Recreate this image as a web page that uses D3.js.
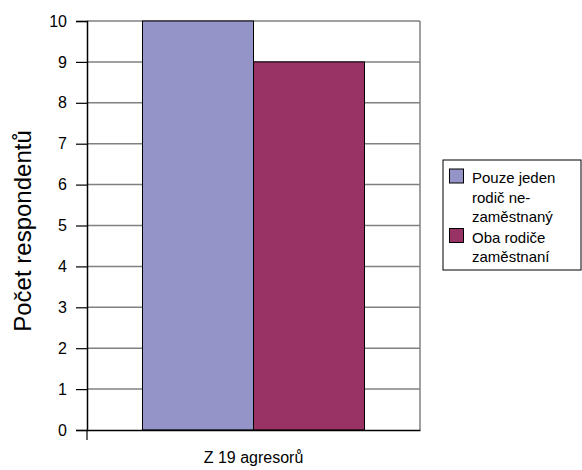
<!DOCTYPE html>
<html><head><meta charset="utf-8">
<script src="https://cdn.jsdelivr.net/npm/d3@7"></script>
<style>body{margin:0;background:#fff}svg{display:block}</style>
</head><body>
<svg id="c" width="582" height="470"></svg>
<script>
const categories = ["Z 19 agresorů"];
const seriesNames = ["Pouze jeden rodič ne-zaměstnaný", "Oba rodiče zaměstnaní"];
const legendLines = [["Pouze jeden", "rodič ne-", "zaměstnaný"], ["Oba rodiče", "zaměstnaní"]];
const seriesValues = [[10], [9]];
const colors = ["#9494c9", "#993366"];
const yTicks = [0,1,2,3,4,5,6,7,8,9,10];
const yTitle = "Počet respondentů";

const svg = d3.select("#c");
const font = "Liberation Sans, Arial, sans-serif";
const L = 87, R = 420, T = 21, B = 430;

const y = d3.scaleLinear().domain([0, 10]).range([B, T]);
const x0 = d3.scaleBand().domain(categories).range([L, R]).padding(0);
const x1 = d3.scaleBand().domain(d3.range(seriesNames.length)).range([0, x0.bandwidth()]).paddingInner(0).paddingOuter(0.5);

// gridlines
svg.append("g").selectAll("line").data(yTicks.filter(d => d > 0)).join("line")
  .attr("x1", L).attr("x2", R).attr("y1", d => y(d)).attr("y2", d => y(d))
  .attr("stroke", "#808080").attr("stroke-width", 1.5);
// right border
svg.append("line").attr("x1", R).attr("x2", R).attr("y1", T).attr("y2", B)
  .attr("stroke", "#808080").attr("stroke-width", 1.5);

// bars
categories.forEach((c, ci) => {
  seriesValues.forEach((vals, si) => {
    svg.append("rect")
      .attr("x", x0(c) + x1(si)).attr("width", x1.bandwidth())
      .attr("y", y(vals[ci])).attr("height", y(0) - y(vals[ci]))
      .attr("fill", colors[si]).attr("stroke", "#000").attr("stroke-width", 1);
  });
});

// y axis
const yAxis = svg.append("g").attr("transform", `translate(${L},0)`)
  .call(d3.axisLeft(y).tickValues(yTicks).tickFormat(d3.format("d")).tickSize(11).tickPadding(9));
yAxis.select(".domain").attr("stroke", "#000").attr("stroke-width", 1.5);
yAxis.selectAll(".tick line").attr("stroke", "#000").attr("stroke-width", 1.2);
yAxis.selectAll("text").attr("font-family", font).attr("font-size", 16).attr("fill", "#000");

// x axis
const xAxis = svg.append("g").attr("transform", `translate(0,${B})`)
  .call(d3.axisBottom(x0).tickSize(0).tickPadding(22));
xAxis.select(".domain").attr("stroke", "#000").attr("stroke-width", 1.5);
xAxis.selectAll("text").attr("font-family", font).attr("font-size", 16).attr("fill", "#000");
svg.append("line").attr("x1", L).attr("x2", L).attr("y1", B).attr("y2", B + 10)
  .attr("stroke", "#000").attr("stroke-width", 1.2);

// y title
svg.append("text").attr("transform", `translate(31,231) rotate(-90)`)
  .attr("text-anchor", "middle").attr("font-family", font).attr("font-size", 24)
  .attr("fill", "#000").text(yTitle);

// legend
const lg = svg.append("g");
lg.append("rect").attr("x", 443).attr("y", 160).attr("width", 138).attr("height", 110)
  .attr("fill", "#fff").attr("stroke", "#000").attr("stroke-width", 1);
let ly = 183;
legendLines.forEach((lines, i) => {
  lg.append("rect").attr("x", 449.5).attr("y", ly - 14).attr("width", 14).attr("height", 14)
    .attr("fill", colors[i]).attr("stroke", "#000").attr("stroke-width", 1);
  lines.forEach((t, j) => {
    lg.append("text").attr("x", 472).attr("y", ly + j * 19.5)
      .attr("font-family", font).attr("font-size", 15).attr("fill", "#000").text(t);
  });
  ly += lines.length * 19.5 + 1;
});
</script>
</body></html>
